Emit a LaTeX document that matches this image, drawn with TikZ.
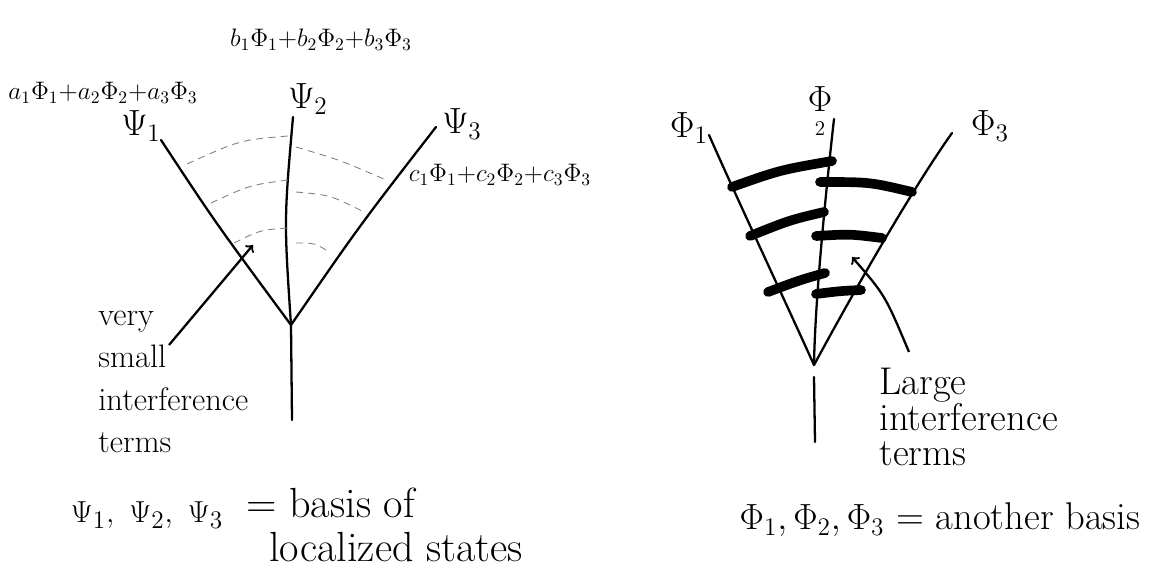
\documentclass[tikz,border=0pt]{standalone}
\usepackage{fontspec}
\usepackage{tikz}
\usetikzlibrary{calc,positioning}
\usepackage{amssymb}
\usepackage{amsmath}
\usepackage{xcolor}

\begin{document}
\begin{tikzpicture}[
    x=0.02cm, y=-0.02cm,
    branch/.style={line width=1.3pt, line cap=round},
    ghost/.style={gray, line width=0.5pt, dash pattern=on 4pt off 3pt},
    bar/.style={line width=5.5pt, line cap=round},
    arrow/.style={->, line width=1.3pt},
    formula/.style={inner sep=0pt, font=\fontsize{14.4}{17}\selectfont},
    tag/.style={inner sep=0pt, font=\fontsize{20}{22}\selectfont},
    note/.style={inner sep=0pt, align=left},
    caption/.style={inner sep=0pt, font=\fontsize{24}{26}\selectfont}
]
\useasboundingbox (0,0) rectangle (1155,571);

% localized basis
\coordinate (jointL) at (291,325);
\coordinate (psiOneEnd) at (161,140);
\coordinate (psiTwoEnd) at (293,117);
\coordinate (psiThreeEnd) at (436,127);
\coordinate (stemL) at (292,420);

\draw[branch] (psiOneEnd) .. controls (215,222) .. (jointL);
\draw[branch] (psiTwoEnd) .. controls (284,220) .. (jointL);
\draw[branch] (psiThreeEnd) .. controls (360,225) .. (jointL);
\draw[branch] (jointL) -- (stemL);

\draw[ghost] (187,164) .. controls (240,140) .. (288,136);
\draw[ghost] (211,203) .. controls (250,185) .. (288,180);
\draw[ghost] (234,243) .. controls (260,230) .. (288,228);
\draw[ghost] (296,147) .. controls (340,160) .. (386,180);
\draw[ghost] (296,192) .. controls (330,195) .. (362,211);
\draw[ghost] (296,243) .. controls (315,243) .. (329,252);

\node[formula] (aSum) at (103,93) {$a_1\Phi_1{+}a_2\Phi_2{+}a_3\Phi_3$};
\node[formula] (bSum) at (321,40) {$b_1\Phi_1{+}b_2\Phi_2{+}b_3\Phi_3$};
\node[formula] (cSum) at (500,175) {$c_1\Phi_1{+}c_2\Phi_2{+}c_3\Phi_3$};

\node[tag] (psiOne) at (141,126) {$\Psi_1$};
\node[tag] (psiTwo) at (308,99) {$\Psi_2$};
\node[tag] (psiThree) at (462,124) {$\Psi_3$};

\node[note, anchor=west, font=\fontsize{18.5}{24}\selectfont] (smallTerms) at (98,382)
    {very\\ small\\ interference\\ terms};
\coordinate (smallTail) at (169,345);
\coordinate (smallTip) at (253,245);
\draw[arrow] (smallTail) -- (smallTip);

\node[inner sep=0pt, font=\fontsize{19}{22}\selectfont] (psiList) at (147,515) {$\Psi_1,\ \Psi_2,\ \Psi_3$};
\node[caption, anchor=west] (basisOf) at (246,503) {= basis of};
\node[caption, anchor=west] (localized) at (269,547) {localized states};

% other basis
\coordinate (jointR) at (814,365);
\coordinate (phiOneEnd) at (709,135);
\coordinate (phiTwoEnd) at (834,119);
\coordinate (phiThreeEnd) at (952,133);
\coordinate (stemTopR) at (814,377);
\coordinate (stemR) at (815,442);

\draw[branch] (phiOneEnd) .. controls (740,205) and (780,290) .. (jointR);
\draw[branch] (phiTwoEnd) .. controls (826,190) and (815,300) .. (jointR);
\draw[branch] (phiThreeEnd) .. controls (915,185) and (860,280) .. (jointR);
\draw[branch] (stemTopR) -- (stemR);

\draw[bar] (732,187) .. controls (780,170) .. (832,161);
\draw[bar] (750,236) .. controls (790,220) .. (824,212);
\draw[bar] (768,292) .. controls (800,280) .. (825,273);
\draw[bar] (820,182) .. controls (870,182) .. (912,192);
\draw[bar] (816,236) .. controls (850,234) .. (882,238);
\draw[bar] (816,294) .. controls (840,291) .. (861,290);

\node[tag, font=\fontsize{22}{24}\selectfont] (phiOne) at (689,128) {$\Phi_1$};
\node[tag, align=center, font=\fontsize{22}{16}\selectfont] (phiTwo) at (820,111) {$\Phi$\\[-2pt]{\fontsize{12}{12}\selectfont 2}};
\node[tag, font=\fontsize{22}{24}\selectfont] (phiThree) at (990,126) {$\Phi_3$};

\node[note, anchor=west, font=\fontsize{22}{20}\selectfont] (largeTerms) at (879,417)
    {Large\\ interference\\ terms};
\coordinate (largeTail) at (909,352);
\coordinate (largeTip) at (852,257);
\draw[arrow] (largeTail) .. controls (885,295) .. (largeTip);

\node[inner sep=0pt, font=\fontsize{22}{24}\selectfont] (anotherBasis) at (940,520)
    {$\Phi_1,\Phi_2,\Phi_3$ = another basis};

\end{tikzpicture}
\end{document}
